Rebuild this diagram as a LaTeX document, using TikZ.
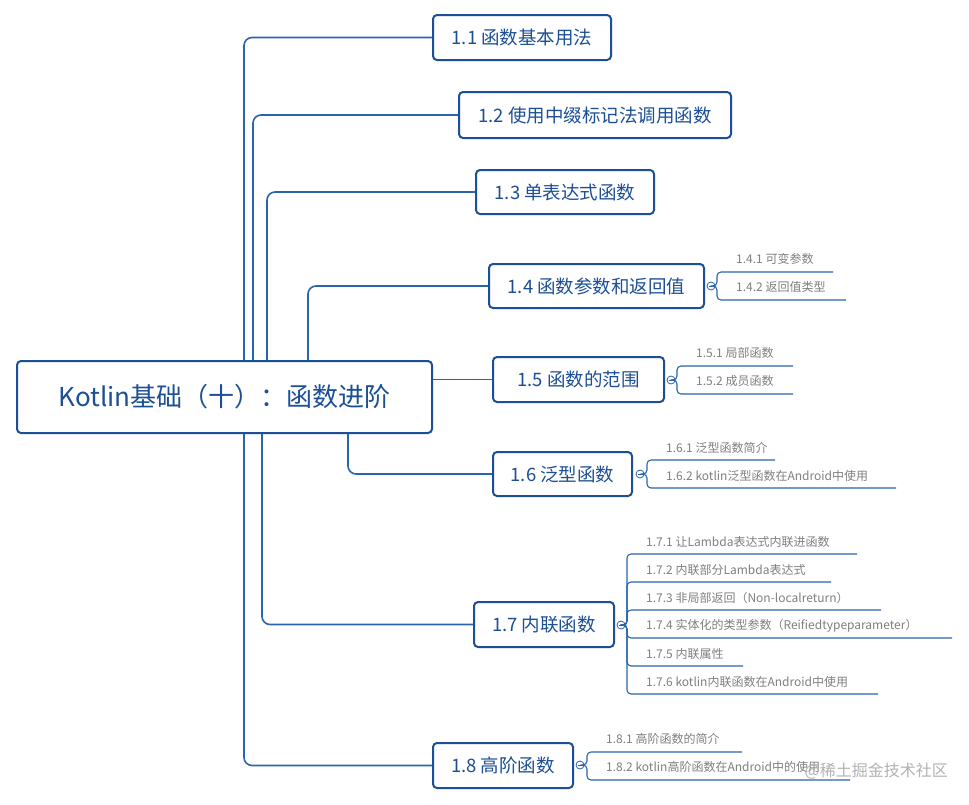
\documentclass[tikz,border=0pt]{standalone}
\usepackage{fontspec}
\setmainfont{Noto Sans CJK SC}
\definecolor{bx}{HTML}{1C4F95}
\definecolor{ln}{HTML}{2A64AD}
\definecolor{gt}{HTML}{7F7F7F}
\begin{document}
\begin{tikzpicture}[x=1pt,y=-1pt,
  topic/.style={draw=bx,line width=2pt,rounded corners=4pt,text=bx,font=\fontsize{18.5}{22}\selectfont,inner sep=0pt},
  conn/.style={draw=ln,line width=1.6pt,rounded corners=8pt},
  subt/.style={text=gt,font=\fontsize{12}{14}\selectfont,anchor=west,inner sep=0pt},
  uline/.style={draw=ln,line width=1.1pt,rounded corners=4pt},
  knob/.style={circle,draw=ln,line width=0.8pt,minimum size=8pt,inner sep=0pt,path picture={\draw[ln,line width=0.8pt] ([xshift=-2.5pt]path picture bounding box.center)--([xshift=2.5pt]path picture bounding box.center);}}]
\useasboundingbox[fill=white] (0,0) rectangle (969,804);
\node[topic,minimum width=415pt,minimum height=72pt,font=\fontsize{26}{30}\selectfont] (m) at (224.5,397) {Kotlin基础（十）：函数进阶};
\node[topic,minimum width=178pt,minimum height=45pt] (t1) at (522,37.5) {1.1 函数基本用法};
\node[topic,minimum width=272pt,minimum height=46pt] (t2) at (595,115) {1.2 使用中缀标记法调用函数};
\node[topic,minimum width=178pt,minimum height=44pt] (t3) at (565,192) {1.3 单表达式函数};
\node[topic,minimum width=215pt,minimum height=44pt] (t4) at (596.5,286) {1.4 函数参数和返回值};
\node[topic,minimum width=171pt,minimum height=45pt] (t5) at (578.5,379.5) {1.5 函数的范围};
\node[topic,minimum width=139pt,minimum height=44pt] (t6) at (562.5,474) {1.6 泛型函数};
\node[topic,minimum width=140pt,minimum height=45pt] (t7) at (544,624.5) {1.7 内联函数};
\node[topic,minimum width=140pt,minimum height=45pt] (t8) at (503,765.5) {1.8 高阶函数};
% main connectors
\draw[conn] ([xshift=228pt]m.north west) |- (t1.west);
\draw[conn] ([xshift=237pt]m.north west) |- (t2.west);
\draw[conn] ([xshift=251pt]m.north west) |- (t3.west);
\draw[conn] ([xshift=292pt]m.north west) |- (t4.west);
\draw[conn] (m.east |- t5.west) -- (t5.west);
\draw[conn] ([xshift=332pt]m.south west) |- (t6.west);
\draw[conn] ([xshift=246pt]m.south west) |- (t7.west);
\draw[conn] ([xshift=228pt]m.south west) |- (t8.west);
% knobs
\node[knob] (k4) at (711,286) {};
\node[knob] (k5) at (671,380) {};
\node[knob] (k6) at (640,474) {};
\node[knob] (k7) at (621,625) {};
\node[knob] (k8) at (580,765) {};
% subtopics
\foreach \n/\k/\bxx/\ty/\uy/\ex/\txt in {
 a1/k4/717/259/272/833/{1.4.1 可变参数},
 a2/k4/717/287/300/846/{1.4.2 返回值类型},
 b1/k5/677/353/366/793/{1.5.1 局部函数},
 b2/k5/677/381/394/793/{1.5.2 成员函数},
 c1/k6/647/448/460/775/{1.6.1 泛型函数简介},
 c2/k6/647/476/488/896/{1.6.2 kotlin泛型函数在Android中使用},
 d1/k7/627/542/554/857/{1.7.1 让Lambda表达式内联进函数},
 d2/k7/627/570/582/831/{1.7.2 内联部分Lambda表达式},
 d3/k7/627/598/610/881/{1.7.3 非局部返回（Non-localreturn）},
 d4/k7/627/626/638/952/{1.7.4 实体化的类型参数（Reifiedtypeparameter）},
 d5/k7/627/654/666/743/{1.7.5 内联属性},
 d6/k7/627/682/694/878/{1.7.6 kotlin内联函数在Android中使用},
 e1/k8/587/739/752/742/{1.8.1 高阶函数的简介},
 e2/k8/587/767/780/850/{1.8.2 kotlin高阶函数在Android中的使用}}{
 \node[subt] (\n) at (\bxx+19,\ty) {\txt};
 \coordinate (\n e) at (\ex,\uy);
 \coordinate (\n b) at (\bxx,0);
 \draw[uline] (\k.east) -- (\k.east -| \n b) |- (\n e);
}
\node[text=gray!60,font=\fontsize{16}{18}\selectfont,anchor=east,inner sep=0pt] (wm) at (948,771) {@稀土掘金技术社区};
\end{tikzpicture}
\end{document}
